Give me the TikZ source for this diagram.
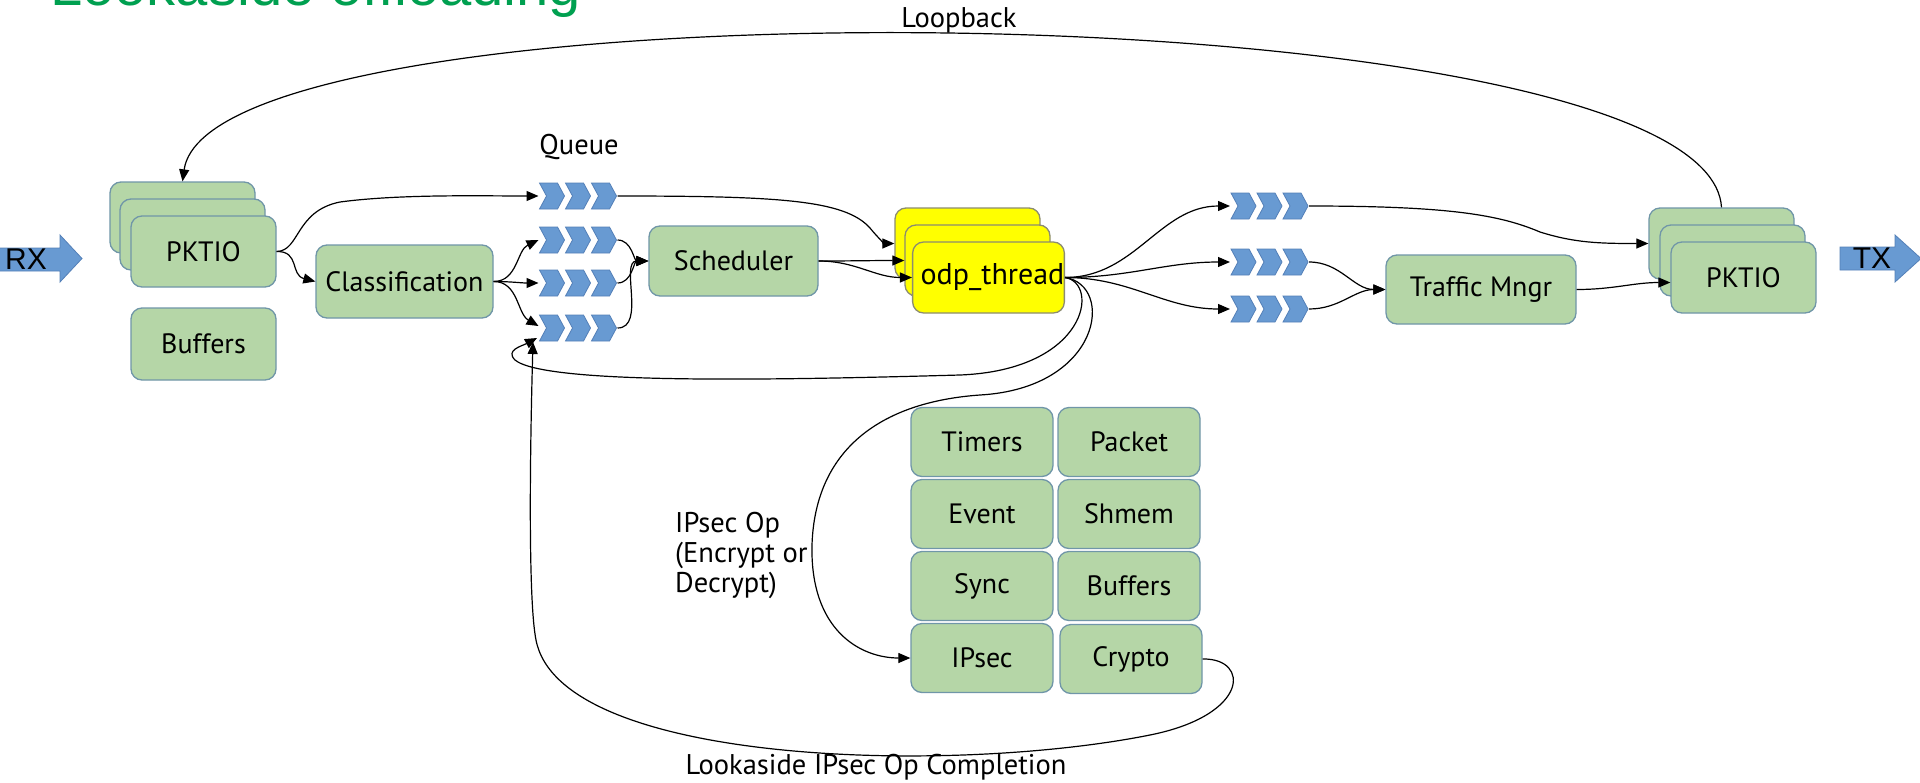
\documentclass[tikz,border=0pt]{standalone}
\usepackage{fontspec}
\setmainfont{PT Sans}
\newfontfamily\arialfont{Liberation Sans}
\usetikzlibrary{arrows.meta,calc}

\definecolor{boxfill}{RGB}{181,214,167}
\definecolor{boxline}{RGB}{112,150,168}
\definecolor{thrfill}{RGB}{255,255,0}
\definecolor{thrline}{RGB}{140,140,112}
\definecolor{qfill}{RGB}{104,154,210}
\definecolor{qline}{RGB}{84,128,184}
\definecolor{titlegreen}{RGB}{0,160,80}

\begin{document}
\begin{tikzpicture}[x=1pt,y=1pt,
  lbl/.style={font=\fontsize{28.5}{30}\selectfont, inner sep=0pt},
  block/.style={draw=boxline, fill=boxfill, line width=1.3pt, rounded corners=11pt,
    inner sep=0pt, font=\fontsize{28}{30}\selectfont},
  thr/.style={block, draw=thrline, fill=thrfill, font=\fontsize{30}{32}\selectfont},
  queue/.style={minimum width=79pt, minimum height=28pt, inner sep=0pt, outer sep=0pt,
    path picture={
      \foreach \i in {0,1,2}{
        \filldraw[fill=qfill, draw=qline, line width=0.8pt]
          ($(path picture bounding box.south west)+(1+\i*26,1)$)
          -- ++(18,0) -- ++(7,13) -- ++(-7,13) -- ++(-18,0) -- ++(7,-13) -- cycle;
      }
    }},
  bigarrow/.style={fill=qfill, draw=qline, line width=0.8pt},
  conn/.style={line width=1.2pt, -{Triangle[length=12pt,width=10pt]}},
]
\useasboundingbox (0,0) rectangle (1920,-782);
\fill[white] (0,0) rectangle (1920,-782);

% heading, mostly above the page edge
\node[anchor=base west, text=titlegreen, inner sep=0pt,
  font=\arialfont\fontsize{58}{60}\selectfont] (title) at (50,-5) {Lookaside offloading};

% receive / transmit arrows
\filldraw[bigarrow] (-2,-248) -- (60,-248) -- (60,-235) -- (82,-258.5) -- (60,-282)
  -- (60,-271) -- (-2,-271) -- cycle;
\node[font=\arialfont\fontsize{30}{32}\selectfont, inner sep=0pt] (rx) at (26,-259.5) {RX};
\filldraw[bigarrow] (1840,-247) -- (1895,-247) -- (1895,-235) -- (1921,-258.5) -- (1895,-282)
  -- (1895,-270) -- (1840,-270) -- cycle;
\node[font=\arialfont\fontsize{30}{32}\selectfont, inner sep=0pt] (tx) at (1872,-258.5) {TX};

% input PKTIO stack and buffers
\node[block, minimum width=145pt, minimum height=71pt] (pkb) at (182.5,-217.5) {};
\node[block, minimum width=145pt, minimum height=71pt] (pkm) at (192.5,-234.5) {};
\node[block, minimum width=145pt, minimum height=71pt] (pkl) at (203.5,-251.5) {PKTIO};
\node[block, minimum width=145pt, minimum height=72pt] (bufl) at (203.5,-344) {Buffers};

\node[block, minimum width=177pt, minimum height=73pt] (cls) at (404.5,-281.5) {Classification};

% input queues
\node[lbl] (qlabel) at (579,-147) {Queue};
\node[queue] (q1) at (578,-196) {};
\node[queue] (q2) at (578,-240) {};
\node[queue] (q3) at (578,-283) {};
\node[queue] (q4) at (578,-328) {};

\node[block, minimum width=169pt, minimum height=70pt] (sched) at (733.5,-261) {Scheduler};

% worker threads
\node[thr, minimum width=145pt, minimum height=71pt] (odpb) at (967.5,-243.5) {};
\node[thr, minimum width=145pt, minimum height=71pt] (odpm) at (977.5,-260.5) {};
\node[thr, minimum width=145pt, minimum height=71pt] (odp) at (988.5,-277.5) {\hspace*{8pt}odp\_thread};

% output queues
\node[queue] (r1) at (1269.5,-206) {};
\node[queue] (r2) at (1269.5,-262) {};
\node[queue] (r3) at (1269.5,-309) {};

\node[block, minimum width=190pt, minimum height=69pt] (tm) at (1481,-289.5) {Traffic Mngr};

% output PKTIO stack
\node[block, minimum width=145pt, minimum height=71pt] (pkrb) at (1721.5,-243.5) {};
\node[block, minimum width=145pt, minimum height=71pt] (pkrm) at (1732.5,-260.5) {};
\node[block, minimum width=145pt, minimum height=71pt] (pkr) at (1743.5,-277.5) {PKTIO};

% API blocks
\node[block, minimum width=142pt, minimum height=69pt] (timers) at (982,-442) {Timers};
\node[block, minimum width=142pt, minimum height=69pt] (packet) at (1129,-442) {Packet};
\node[block, minimum width=142pt, minimum height=69pt] (event) at (982,-514) {Event};
\node[block, minimum width=142pt, minimum height=69pt] (shmem) at (1129,-514) {Shmem};
\node[block, minimum width=142pt, minimum height=69pt] (sync) at (982,-586) {Sync};
\node[block, minimum width=142pt, minimum height=69pt] (bufr) at (1129,-586) {Buffers};
\node[block, minimum width=142pt, minimum height=69pt] (ipsec) at (982,-658) {IPsec};
\node[block, minimum width=142pt, minimum height=69pt] (crypto) at (1131,-659) {Crypto};

% labels
\node[lbl] (lbloop) at (959,-20) {Loopback};
\node[lbl, align=left, anchor=west] (lbop) at (675,-555) {IPsec Op\\(Encrypt or\\Decrypt)};
\node[lbl] (lbdone) at (876,-767) {Lookaside IPsec Op Completion};

% packet input
\draw[conn] (pkl.east) .. controls (300,-251) and (295,-211) .. (340,-202)
  .. controls (400,-194) and (480,-196) .. (q1.west);
\draw[conn] (pkl.east) .. controls (300,-251) and (290,-275) .. (cls.west);

% classification fan-out
\draw[conn] (cls.east) to[out=0,in=205] (q2.west);
\draw[conn] (cls.east) to[out=0,in=180] (q3.west);
\draw[conn] (cls.east) to[out=0,in=150] ([yshift=2pt]q4.west);

% scheduling
\draw[conn] (q2.east) to[out=0,in=180] (sched.west);
\draw[conn] (q3.east) to[out=0,in=180] (sched.west);
\draw[conn] (q4.east) to[out=0,in=180] (sched.west);
\draw[conn] (q1.east) .. controls (780,-196) and (845,-200) .. (870,-228)
  .. controls (878,-238) and (885,-243.5) .. (odpb.west);
\draw[conn] (sched.east) to[out=0,in=180] (odpm.west);
\draw[conn] (sched.east) to[out=0,in=180] (odp.west);

% output side
\draw[conn] (odp.east) to[out=0,in=180] (r1.west);
\draw[conn] (odp.east) to[out=0,in=180] (r2.west);
\draw[conn] (odp.east) to[out=0,in=180] (r3.west);
\draw[conn] (r1.east) .. controls (1450,-206) and (1500,-215) .. (1540,-232)
  .. controls (1575,-243) and (1600,-243.5) .. (pkrb.west);
\draw[conn] (r2.east) to[out=0,in=180] (tm.west);
\draw[conn] (r3.east) to[out=0,in=180] (tm.west);
\draw[conn] (tm.east) to[out=0,in=180] ([yshift=-5pt]pkr.west);

% loopback
\draw[conn] (pkrb.north) .. controls +(-13,220) and +(29,206) .. (pkb.north);

% re-enqueue from the worker
\draw[conn] (odp.east) .. controls (1100,-283) and (1088,-370) .. (960,-375)
  .. controls (780,-380) and (545,-385) .. (515,-360)
  .. controls (505,-350) and (522,-346) .. (537,-338);

% IPsec operation request
\draw[conn] (odp.east) .. controls (1115,-285) and (1102,-388) .. (980,-395)
  .. controls (880,-402) and (815,-450) .. (812,-545)
  .. controls (810,-630) and (860,-658) .. (ipsec.west);

% lookaside completion
\draw[conn] (crypto.east) .. controls (1250,-658) and (1250,-715) .. (1150,-735)
  .. controls (950,-775) and (560,-765) .. (536,-640)
  .. controls (528,-600) and (530,-450) .. (533,-342);
\end{tikzpicture}
\end{document}
